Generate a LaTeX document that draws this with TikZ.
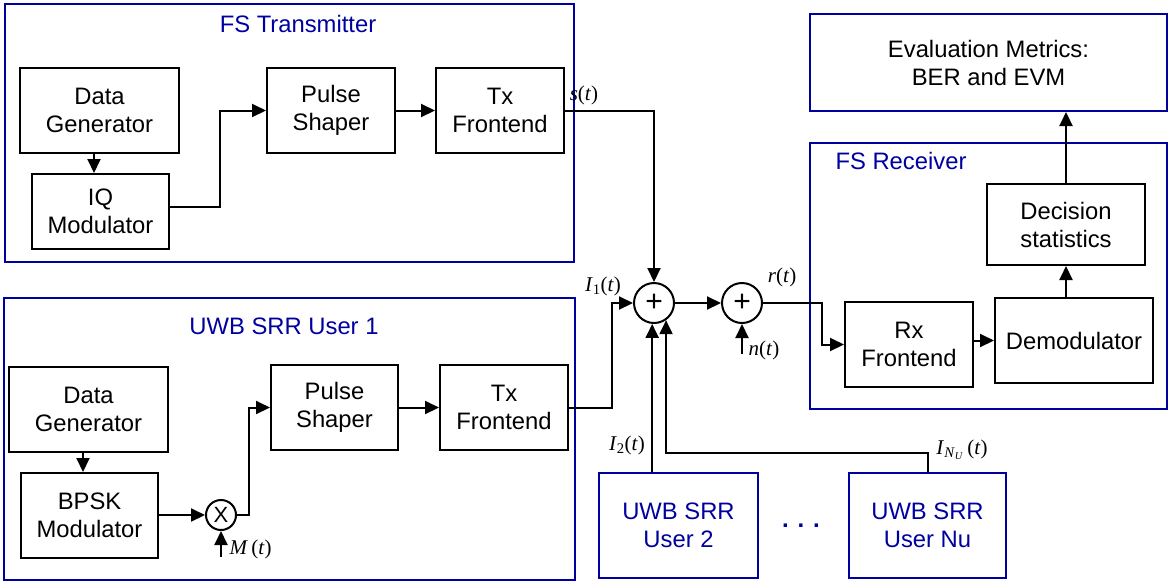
\documentclass[tikz,border=0pt]{standalone}
\usepackage{fontspec}
\setmainfont{Liberation Sans}
\newfontfamily\tms{Liberation Serif}
\usetikzlibrary{arrows.meta,calc}
\definecolor{navy}{RGB}{0,0,160}

% box from its corner coordinates: name, x1, y1, x2, y2, style, text
\newcommand\bx[7]{\node[#6, minimum width={#4-#2}, minimum height={#5-#3}] (#1) at ({(#2+#4)/2},{(#3+#5)/2}) {#7};}

\begin{document}
\begin{tikzpicture}[x=1pt,y=-1pt,
  blk/.style={draw, line width=2pt, inner sep=0pt, align=center, font=\fontsize{23.8}{28}\selectfont},
  grp/.style={draw=navy, line width=2pt, inner sep=0pt},
  sum/.style={draw, circle, line width=2pt, minimum size=40pt, inner sep=0pt, font=\fontsize{30}{30}\selectfont},
  arr/.style={line width=2pt, -{Triangle[length=14pt,width=13pt]}},
  sig/.style={font=\tms\fontsize{21}{21}\selectfont},
  ttl/.style={text=navy, font=\fontsize{23.8}{28}\selectfont}
]
\useasboundingbox (0,0) rectangle (1169,582);

% FS transmitter
\bx{tx}{5}{4}{574}{262}{grp}{}
\node[ttl] (txt) at (298,24) {FS Transmitter};
\bx{tdg}{20}{68}{179}{153}{blk}{Data\\Generator}
\bx{tiq}{32}{174}{169}{249}{blk}{IQ\\Modulator}
\bx{tps}{267}{68}{395}{153}{blk}{Pulse\\Shaper}
\bx{ttx}{436}{68}{564}{153}{blk}{Tx\\Frontend}

% UWB SRR user 1
\bx{uwb}{4}{298}{575}{580}{grp}{}
\node[ttl] (uwbt) at (284,326) {UWB SRR User 1};
\bx{udg}{9}{367}{168}{452}{blk}{Data\\Generator}
\bx{ubp}{21}{473}{158}{558}{blk}{BPSK\\Modulator}
\bx{ups}{271}{365}{398}{450}{blk}{Pulse\\Shaper}
\bx{utx}{440}{365}{568}{450}{blk}{Tx\\Frontend}
\node[sum, minimum size=30pt, font=\fontsize{22}{22}\selectfont] (mix) at (221,515) {X};

% channel
\node[sum] (add1) at (654,303) {\raisebox{-1.5pt}{+}};
\node[sum] (add2) at (742,303) {\raisebox{-1.5pt}{+}};

% FS receiver and metrics
\bx{eval}{810}{14}{1167}{111}{blk, draw=navy}{Evaluation Metrics:\\BER and EVM}
\bx{rx}{810}{143}{1167}{409}{grp}{}
\node[ttl, anchor=west] (rxt) at (832,161) {FS Receiver};
\bx{dec}{987}{184}{1145}{265}{blk}{Decision\\statistics}
\bx{rxfe}{845}{302}{973}{387}{blk}{Rx\\Frontend}
\bx{dem}{995}{298}{1153}{383}{blk}{Demodulator}

% other UWB users
\bx{us2}{599}{473}{758}{578}{blk, draw=navy, text=navy}{UWB SRR\\User 2}
\bx{usn}{849}{473}{1006}{578}{blk, draw=navy, text=navy}{UWB SRR\\User Nu}
\node[text=navy, font=\bfseries\fontsize{24}{24}\selectfont, anchor=base] (dots) at (801,527) {. . .};

% transmitter chain
\draw[arr] ([xshift=-5.5pt]tdg.south) -- ([xshift=-5.5pt]tdg.south |- tiq.north);
\draw[arr] ([yshift=4.5pt]tiq.east) -- ++(50,0) |- (tps.west);
\draw[arr] (tps) -- (ttx);
\draw[arr] (ttx.east) -| (add1.north);
\node[sig] (st) at (584,95) {\textit{s}(\textit{t})};

% user 1 chain
\draw[arr] ([xshift=-5.5pt]udg.south) -- ([xshift=-5.5pt]udg.south |- ubp.north);
\draw[arr] (ubp.east |- mix.west) -- (mix.west);
\coordinate (mt) at (221,557);
\draw[arr] (mt) -- (mix.south);
\node[sig, anchor=west] (mtl) at (226,549) {\textit{M}\,(\textit{t})};
\draw[arr] (mix.east) -- ++(12,0) |- (ups.west);
\draw[arr] (ups) -- (utx);
\draw[arr] (utx.east) -- ++(43,0) |- (add1.west);
\node[sig] (i1) at (603,286) {\textit{I}\textsubscript{1}(\textit{t})};

% summation and noise
\draw[arr] (add1) -- (add2);
\coordinate (nt) at (742,354);
\draw[arr] (nt) -- (add2.south);
\node[sig, anchor=west] (ntl) at (745,350) {\textit{n}(\textit{t})};
\draw[arr] (add2.east) -- ++(59,0) |- (rxfe.west);
\node[sig] (rt) at (782,277) {\textit{r}(\textit{t})};

% receiver chain
\draw[arr] (dem.west -| rxfe.east) -- (dem.west);
\draw[arr] (dec.south |- dem.north) -- (dec.south);
\draw[arr] (dec.north) -- (dec.north |- eval.south);

% other users into the sum
\draw[arr] (add1.-95 |- us2.north) -- (add1.-95);
\draw[arr] (usn.north) -- ++(0,-19) -| (add1.-55);
\node[sig] (i2) at (627,445) {\textit{I}\textsubscript{2}(\textit{t})};
\node[sig] (inu) at (962,450) {\textit{I}\textsubscript{\textit{N}\textsubscript{\textit{U}}}\,(\textit{t})};
\end{tikzpicture}
\end{document}
